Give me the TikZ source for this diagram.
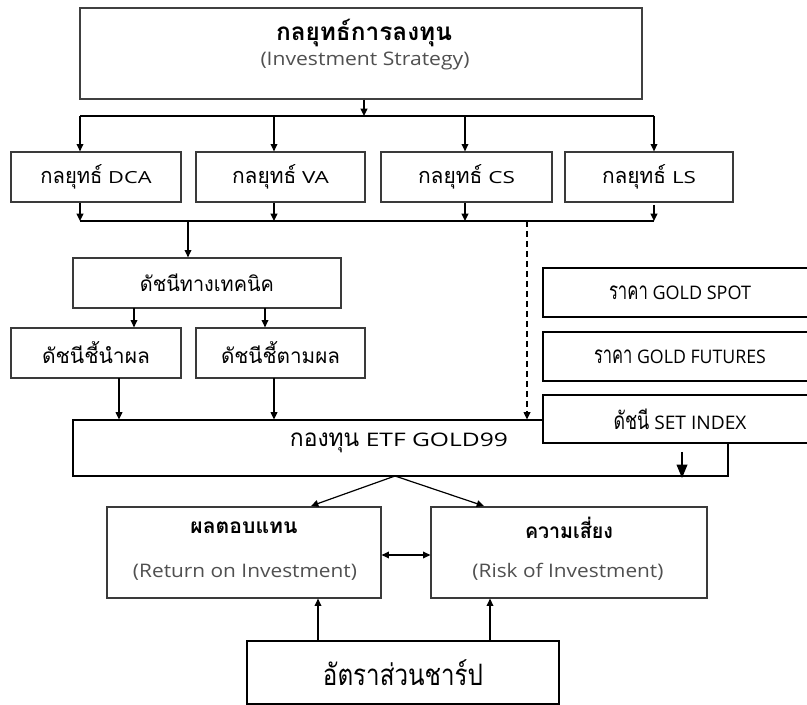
\documentclass[tikz,border=0pt]{standalone}
\usepackage{fontspec}
\usepackage{graphicx}
\setmainfont[FakeStretch=1.4]{Open Sans}
\newfontfamily\thai[Script=Thai,Scale=1.3]{Loma}
\usetikzlibrary{arrows.meta}
\newcommand{\fitw}[2]{\resizebox{#1}{\height}{#2}}
\definecolor{subgray}{HTML}{505050}
\definecolor{edgegray}{HTML}{3A3A3A}
\tikzset{
  box/.style={draw=edgegray, line width=0.9pt, inner sep=0pt, align=center, fill=white,
    font=\fontsize{12.5}{14}\selectfont},
  heavybox/.style={box, draw=black, line width=1.6pt, font=\fontsize{14}{16}\selectfont},
  txt/.style={inner sep=0pt, align=center, font=\fontsize{12}{14}\selectfont},
  subtxt/.style={txt, text=subgray, font=\fontsize{14}{16}\selectfont},
  boldtxt/.style={txt, font=\bfseries\fontsize{12}{14}\selectfont},
  conn/.style={line width=1.1pt, -{Triangle[length=5.5pt,width=5pt]}},
  bigconn/.style={line width=1.1pt, -{Triangle[length=10pt,width=8pt]}},
  dblconn/.style={line width=1.1pt, {Triangle[length=5.5pt,width=5pt]}-{Triangle[length=5.5pt,width=5pt]}},
  thinconn/.style={line width=0.9pt, -{Triangle[length=5.5pt,width=5pt]}},
  busline/.style={line width=1.8pt},
  dashconn/.style={line width=1.1pt, dash pattern=on 4.5pt off 3pt, -{Triangle[length=5.5pt,width=5pt]}},
}
\begin{document}
\begin{tikzpicture}[x=0.75pt,y=-0.75pt]
\useasboundingbox (0,0) rectangle (807,705);

% top box
\node[box, draw=black!75, minimum width=421.5pt, minimum height=68.25pt] (top) at (361,53.5) {};
\node[boldtxt, font=\bfseries\fontsize{14}{16}\selectfont] (toptitle) at (364,33) {\fitw{132pt}{\thai กลยุทธ์การลงทุน}};
\node[subtxt] (topsub) at (365,61) {\fitw{156.75pt}{(Investment Strategy)}};

% strategy boxes
\node[box, minimum width=127.5pt, minimum height=37.5pt] (dca) at (96,177) {\fitw{83.25pt}{{\thai กลยุทธ์} DCA}};
\node[box, minimum width=126.75pt, minimum height=37.5pt] (va) at (280.5,177) {\fitw{72.75pt}{{\thai กลยุทธ์} VA}};
\node[box, minimum width=128.25pt, minimum height=37.5pt] (cs) at (466.5,177) {\fitw{72.75pt}{{\thai กลยุทธ์} CS}};
\node[box, minimum width=126pt, minimum height=37.5pt] (ls) at (649,177) {\fitw{70.5pt}{{\thai กลยุทธ์} LS}};

% upper bus
\coordinate (busA1) at (80,116);
\coordinate (busA2) at (274,116);
\coordinate (busA3) at (465,116);
\coordinate (busA4) at (654,116);
\coordinate (busAtop) at (364,116);
\draw[busline] (busA1) -- (busA4);
\draw[conn] (top.south -| busAtop) -- (busAtop);
\draw[conn] (busA1) -- (busA1 |- dca.north);
\draw[conn] (busA2) -- (busA2 |- va.north);
\draw[conn] (busA3) -- (busA3 |- cs.north);
\draw[conn] (busA4) -- (busA4 |- ls.north);

% lower bus
\coordinate (busB1) at (80,221);
\coordinate (busB2) at (274,221);
\coordinate (busB3) at (465,221);
\coordinate (busB4) at (654,221);
\coordinate (busBtech) at (188,221);
\coordinate (busBdash) at (527,221);
\draw[busline] (busB1) -- (busB4);
\draw[conn] (busB1 |- dca.south) -- (busB1);
\draw[conn] (busB2 |- va.south) -- (busB2);
\draw[conn] (busB3 |- cs.south) -- (busB3);
\draw[conn] (654,205) -- (busB4);

% technical indicators
\node[box, font=\fontsize{12}{14}\selectfont, minimum width=201pt, minimum height=37.5pt] (tech) at (207,283) {\fitw{100.5pt}{\thai ดัชนีทางเทคนิค}};
\draw[conn] (busBtech) -- (busBtech |- tech.north);
\node[box, font=\fontsize{12}{14}\selectfont, minimum width=127.5pt, minimum height=37.5pt] (lead) at (96,353) {\fitw{81pt}{\thai ดัชนีชี้นำผล}};
\node[box, font=\fontsize{12}{14}\selectfont, minimum width=126.75pt, minimum height=37.5pt] (lag) at (280.5,353) {\fitw{89.25pt}{\thai ดัชนีชี้ตามผล}};
\coordinate (t1) at (134,308);
\coordinate (t2) at (265,308);
\draw[conn] (t1) -- (t1 |- lead.north);
\draw[conn] (t2) -- (t2 |- lag.north);

% ETF box
\node[box, line width=0.8pt, draw=black, minimum width=491.25pt, minimum height=42pt] (etf) at (400.5,448) {};
\node[txt, font=\fontsize{14}{16}\selectfont] (etftext) at (399,443) {\fitw{163.5pt}{{\thai กองทุน} ETF GOLD99}};
\coordinate (l1) at (119,378);
\coordinate (l2) at (274,378);
\draw[conn] (l1) -- (l1 |- etf.north);
\draw[conn] (l2) -- (l2 |- etf.north);
\draw[dashconn] (busBdash) -- (busBdash |- etf.north);

% right boxes
\node[heavybox, minimum width=205.5pt, minimum height=36.75pt] (spot) at (680,292.5) {\fitw{106.5pt}{{\thai ราคา} GOLD SPOT}};
\node[heavybox, minimum width=205.5pt, minimum height=36.75pt] (fut) at (680,356.5) {\fitw{129pt}{{\thai ราคา} GOLD FUTURES}};
\node[heavybox, minimum width=205.5pt, minimum height=36pt] (set) at (680,419) {\fitw{99.75pt}{{\thai ดัชนี} SET INDEX}};
\coordinate (setarr) at (682,452);
\draw[bigconn] (setarr) -- (682,478);

% return / risk
\node[box, minimum width=205.5pt, minimum height=68.25pt] (ret) at (244,552.5) {};
\node[boldtxt] (rettitle) at (244,528) {\fitw{80.25pt}{\thai ผลตอบแทน}};
\node[subtxt] (retsub) at (245,572) {\fitw{168pt}{(Return on Investment)}};
\node[box, minimum width=207pt, minimum height=68.25pt] (risk) at (569,552.5) {};
\node[boldtxt] (risktitle) at (569,528) {\fitw{66pt}{\thai ความเสี่ยง}};
\node[subtxt] (risksub) at (568,572) {\fitw{143.25pt}{(Risk of Investment)}};

\coordinate (apex) at (395,476);
\draw[thinconn] (apex) -- (311,506);
\draw[thinconn] (apex) -- (484,506);
\draw[dblconn] (ret.east |- 0,555) -- (risk.west |- 0,555);

% Sharpe ratio
\node[heavybox, minimum width=234pt, minimum height=47.25pt, font=\fontsize{17}{20}\selectfont] (sharpe) at (403,672.5) {\fitw{120pt}{\thai อัตราส่วนชาร์ป}};
\coordinate (s1) at (318,641);
\coordinate (s2) at (490,641);
\draw[conn] (s1) -- (s1 |- ret.south);
\draw[conn] (s2) -- (s2 |- risk.south);
\end{tikzpicture}
\end{document}
